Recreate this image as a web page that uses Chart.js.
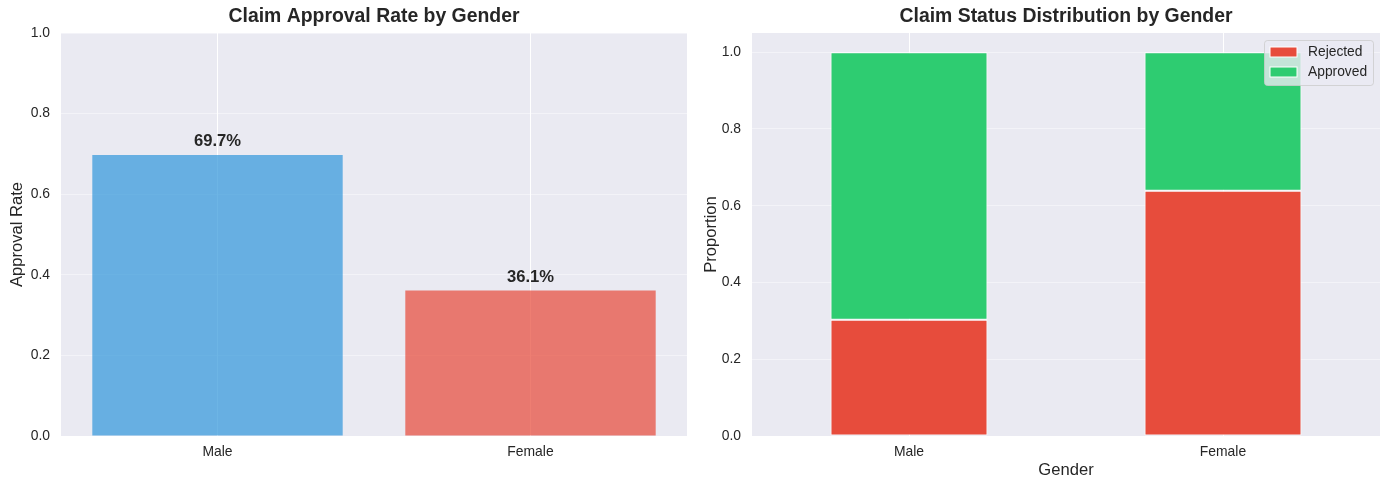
<!DOCTYPE html>
<html>
<head>
<meta charset="utf-8">
<script src="https://cdn.jsdelivr.net/npm/chart.js@4"></script>
<style>
  body { margin: 0; background: #fff; }
  #wrap { display: flex; width: 1389px; height: 490px; }
  .cell { position: relative; height: 490px; }
</style>
</head>
<body>
<div id="wrap">
  <div class="cell" style="width:694px"><canvas id="chartApprovalRate"></canvas></div>
  <div class="cell" style="width:695px"><canvas id="chartStatusDist"></canvas></div>
</div>
<script>
// data
const genders = ['Male', 'Female'];
const approvalRate = [0.697, 0.361];
const rejectedShare = [0.303, 0.639];
const approvedShare = [0.697, 0.361];
const statusLabels = ['Rejected', 'Approved'];
const titles = ['Claim Approval Rate by Gender', 'Claim Status Distribution by Gender'];

const FONT = "'Liberation Sans', Arial, sans-serif";
const INK = '#262626';

Chart.defaults.font.family = FONT;
Chart.defaults.color = INK;
Chart.defaults.animation = false;

/** fill plot area and draw the title centred over it */
const panelPlugin = {
  id: 'panel',
  beforeDraw(chart, args, opts) {
    const { ctx, chartArea: a } = chart;
    ctx.save();
    ctx.fillStyle = '#eaeaf2';
    ctx.fillRect(a.left, a.top, a.right - a.left, a.bottom - a.top);
    ctx.restore();
  },
  afterDraw(chart, args, opts) {
    const { ctx, chartArea: a } = chart;
    ctx.save();
    ctx.fillStyle = INK;
    ctx.font = 'bold 19.4px ' + FONT;
    ctx.textAlign = 'center';
    ctx.textBaseline = 'middle';
    ctx.fillText(opts.text, (a.left + a.right) / 2, 17);
    ctx.restore();
  }
};

/** percentage labels above the bars */
const valueLabels = {
  id: 'valueLabels',
  afterDatasetsDraw(chart) {
    const { ctx } = chart;
    const x = chart.scales.x, y = chart.scales.y;
    ctx.save();
    ctx.fillStyle = INK;
    ctx.font = 'bold 16.6px ' + FONT;
    ctx.textAlign = 'center';
    ctx.textBaseline = 'bottom';
    approvalRate.forEach((v, i) => {
      ctx.fillText((v * 100).toFixed(1) + '%', x.getPixelForValue(i), y.getPixelForValue(v + 0.02) + 3);
    });
    ctx.restore();
  }
};

/** legend box in the upper right of the plot */
const cornerLegend = {
  id: 'cornerLegend',
  afterDraw(chart) {
    const { ctx, chartArea: a } = chart;
    const w = 109, h = 45;
    const x0 = a.right - w - 7, y0 = a.top + 7;
    ctx.save();
    ctx.fillStyle = 'rgba(234,234,242,0.8)';
    ctx.strokeStyle = 'rgba(204,204,204,0.8)';
    ctx.lineWidth = 1;
    ctx.beginPath();
    ctx.roundRect(x0 + 0.5, y0 + 0.5, w, h, 3);
    ctx.fill();
    ctx.stroke();
    ctx.font = '13.8px ' + FONT;
    ctx.textBaseline = 'middle';
    chart.data.datasets.forEach((ds, i) => {
      const cy = y0 + 12 + i * 20;
      ctx.fillStyle = ds.backgroundColor;
      ctx.fillRect(x0 + 6, cy - 5, 27, 10);
      ctx.strokeStyle = '#fff';
      ctx.strokeRect(x0 + 6, cy - 5, 27, 10);
      ctx.fillStyle = INK;
      ctx.fillText(ds.label, x0 + 44, cy);
    });
    ctx.restore();
  }
};

function xAxis(titleText) {
  return {
    type: 'category',
    offset: true,
    grid: { color: '#ffffff', lineWidth: 1, offset: false, drawTicks: false },
    border: { display: false },
    ticks: { padding: 8, font: { size: 13.9 }, color: INK },
    title: {
      display: !!titleText, text: titleText || '',
      font: { size: 16.6 }, color: INK, padding: { top: 0, bottom: 10 }
    },
    afterFit(s) { s.height = 54; }
  };
}

function yAxis(max, titleText, width) {
  return {
    min: 0, max: max,
    grid: { color: 'rgba(255,255,255,0.45)', lineWidth: 1, drawTicks: false },
    border: { display: false },
    ticks: {
      stepSize: 0.2, includeBounds: false, padding: 11,
      font: { size: 13.9 }, color: INK,
      callback: v => v.toFixed(1)
    },
    title: {
      display: true, text: titleText,
      font: { size: 16.6 }, color: INK, padding: { top: 7, bottom: 0 }
    },
    afterFit(s) { s.width = width; }
  };
}

/** left: approval rate per gender */
new Chart(document.getElementById('chartApprovalRate'), {
  type: 'bar',
  data: {
    labels: genders,
    datasets: [{
      label: 'Approval Rate',
      data: approvalRate,
      backgroundColor: ['rgba(52,152,219,0.72)', 'rgba(231,76,60,0.72)'],
      borderWidth: 0,
      barPercentage: 0.8,
      categoryPercentage: 1.0
    }]
  },
  options: {
    responsive: true,
    maintainAspectRatio: false,
    layout: { padding: { top: 33, right: 7, left: 0, bottom: 0 } },
    plugins: {
      legend: { display: false },
      tooltip: { enabled: false },
      panel: { text: titles[0] }
    },
    scales: {
      x: xAxis(null),
      y: yAxis(1.0, 'Approval Rate', 61)
    }
  },
  plugins: [panelPlugin, valueLabels]
});

/** right: stacked status share per gender */
new Chart(document.getElementById('chartStatusDist'), {
  type: 'bar',
  data: {
    labels: genders,
    datasets: [
      {
        label: statusLabels[0],
        data: rejectedShare,
        backgroundColor: '#e74c3c',
        borderColor: '#ffffff',
        borderWidth: 1,
        borderSkipped: false,
        barPercentage: 0.5,
        categoryPercentage: 1.0
      },
      {
        label: statusLabels[1],
        data: approvedShare,
        backgroundColor: '#2ecc71',
        borderColor: '#ffffff',
        borderWidth: 1,
        borderSkipped: false,
        barPercentage: 0.5,
        categoryPercentage: 1.0
      }
    ]
  },
  options: {
    responsive: true,
    maintainAspectRatio: false,
    layout: { padding: { top: 33, right: 9, left: 0, bottom: 0 } },
    plugins: {
      legend: { display: false },
      tooltip: { enabled: false },
      panel: { text: titles[1] }
    },
    scales: {
      x: Object.assign(xAxis('Gender'), { stacked: true }),
      y: Object.assign(yAxis(1.05, 'Proportion', 58), { stacked: true })
    }
  },
  plugins: [panelPlugin, cornerLegend]
});
</script>
</body>
</html>
